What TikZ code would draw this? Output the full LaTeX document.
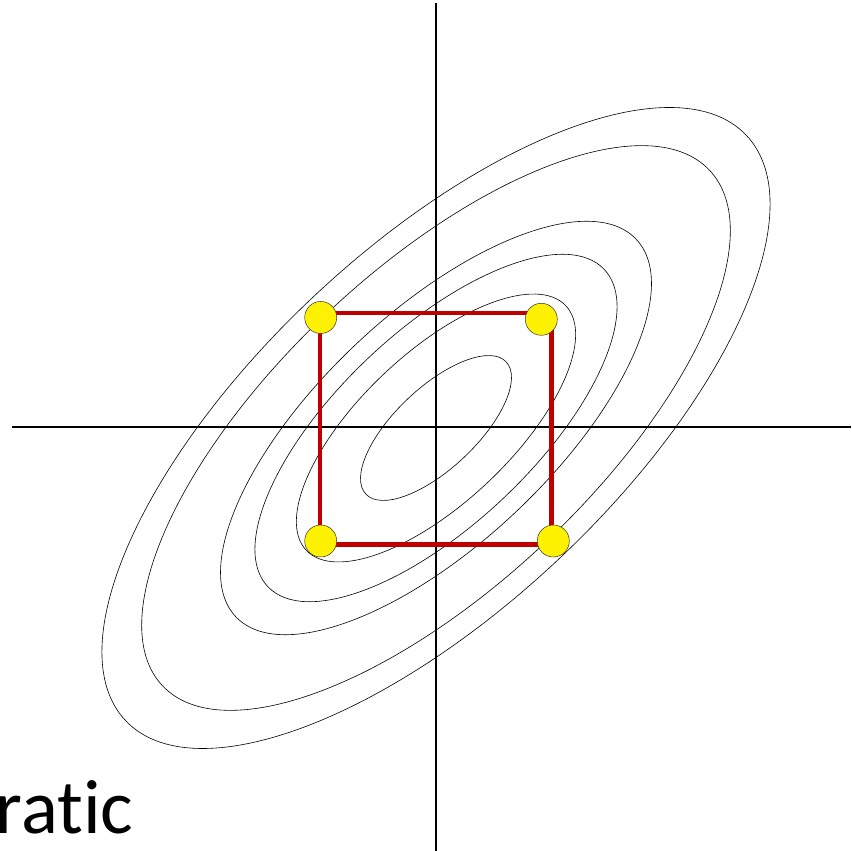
\documentclass[tikz,border=0pt]{standalone}
\usepackage{fontspec}
\setmainfont{Carlito}[Ligatures=NoCommon]
\definecolor{sqred}{HTML}{C00000}
\begin{document}
\begin{tikzpicture}[x=1pt,y=1pt,
  contour/.style={draw=black, line width=0.6pt},
  axisline/.style={draw=black, line width=2.4pt},
  boxline/.style={draw=sqred, line width=4.5pt, line join=miter},
  dot/.style={circle, fill=yellow, draw=black!80, line width=0.5pt, minimum size=32pt, inner sep=0pt}]
\useasboundingbox (0,0) rectangle (851,851);
\coordinate (O) at (436,423);
% contours
\foreach \s in {0.226,0.418,0.542,0.645,0.881,1}
  \draw[contour, shift={(O)}, rotate=43.3] (0,0) ellipse [x radius=\s*426.6pt, y radius=\s*179.6pt];
% axes
\coordinate (vtop) at (435.7,848);
\coordinate (vbot) at (435.7,0);
\coordinate (hl) at (12,423.7);
\coordinate (hr) at (851,423.7);
\draw[axisline] (vtop) -- (vbot);
\draw[axisline] (hl) -- (hr);
% square
\coordinate (c1) at (320,538.2);
\coordinate (c2) at (551.3,538.2);
\coordinate (c3) at (551.3,306.5);
\coordinate (c4) at (320,306.5);
\draw[boxline] (c1) -- (c2) -- (c3) -- (c4) -- cycle;
% dots
\node[dot] (tl) at (320.7,533.5) {};
\node[dot] (tr) at (541.3,531.7) {};
\node[dot] (bl) at (320.7,310) {};
\node[dot] (br) at (553.3,310) {};
% text
\node[anchor=base west, inner sep=0pt, font=\fontsize{77}{77}\selectfont] (lbl) at (-4.5,17) {ratic};
\end{tikzpicture}
\end{document}
